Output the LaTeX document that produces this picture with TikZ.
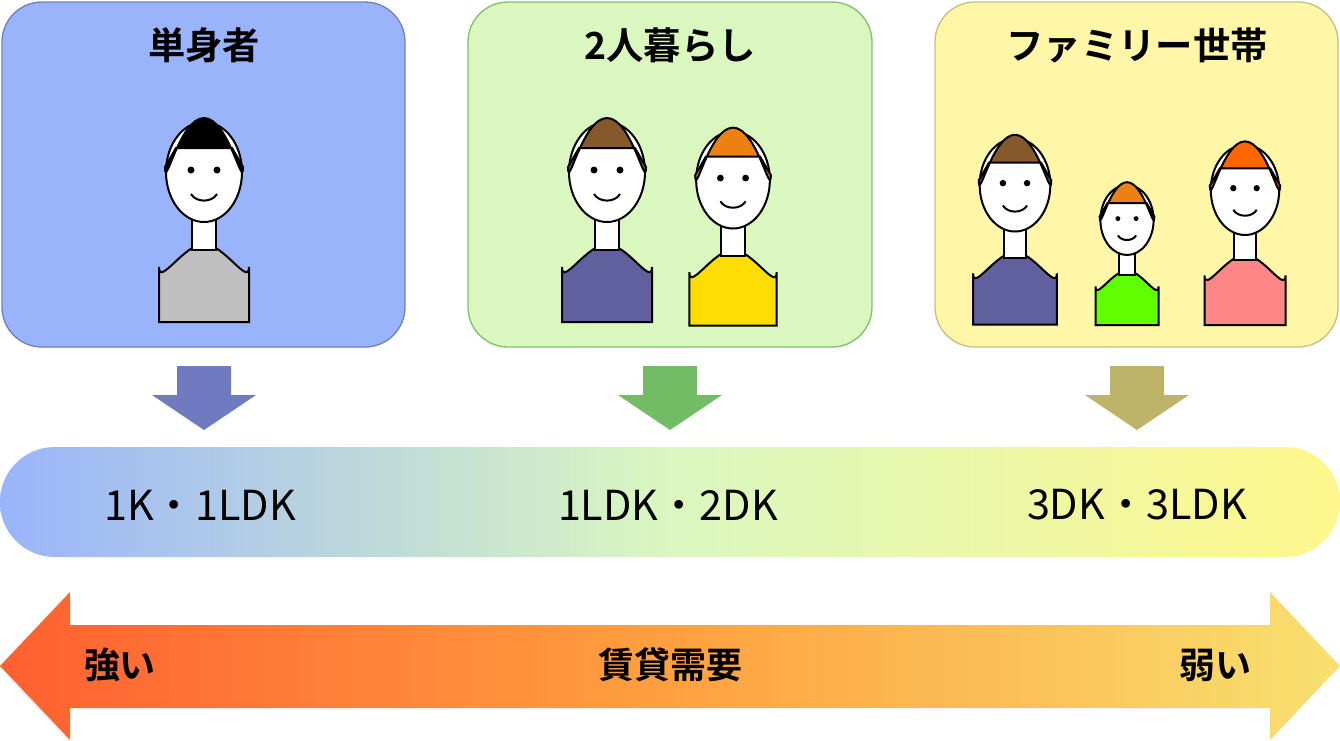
\documentclass[tikz,border=0pt]{standalone}
\usepackage{fontspec}
\newfontfamily\jp{Noto Sans CJK JP}
\newfontfamily\jpb{Noto Sans CJK JP Bold}
\definecolor{singleblue}{HTML}{9AB4FB}
\definecolor{singleedge}{HTML}{6F80C0}
\definecolor{pairgreen}{HTML}{DAF7C0}
\definecolor{pairedge}{HTML}{7DC36A}
\definecolor{familyyellow}{HTML}{FFF6A8}
\definecolor{familyedge}{HTML}{C8C080}
\definecolor{arrowblue}{HTML}{6F7AC0}
\definecolor{arrowgreen}{HTML}{72BC66}
\definecolor{arrowolive}{HTML}{BDB46A}
\definecolor{barright}{HTML}{FFF78C}
\definecolor{demandhigh}{HTML}{FF6030}
\definecolor{demandmid}{HTML}{FFA040}
\definecolor{demandlow}{HTML}{F8E070}
\pgfdeclarehorizontalshading{roomshade}{100bp}{color(0bp)=(singleblue); color(25bp)=(singleblue); color(50bp)=(pairgreen); color(75bp)=(barright); color(100bp)=(barright)}
\pgfdeclarehorizontalshading{demandshade}{100bp}{color(0bp)=(demandhigh); color(25bp)=(demandhigh); color(50bp)=(demandmid); color(75bp)=(demandlow); color(100bp)=(demandlow)}
% simple figure: x, head y, scale, hair colour, shirt colour
\newcommand\figperson[5]{%
\begin{scope}[shift={(#1,#2)},scale=#3]
\filldraw[fill=#5,line width=1.5pt] (-45,150) -- (-45,95) to[out=-90,in=180] (0,72) to[out=0,in=-90] (45,95) -- (45,150) -- cycle;
\filldraw[fill=white,line width=1.5pt] (-12,40) rectangle (12,78);
\filldraw[fill=white,line width=1.5pt] (0,0) ellipse (38 and 50);
\filldraw[fill=#4,line width=1.5pt] (-39,-5) to[out=-90,in=180] (0,-54) to[out=0,in=-90] (39,-5) -- (28,-24) -- (-28,-24) -- cycle;
\fill (-13,-2) circle (3.5); \fill (13,-2) circle (3.5);
\draw[line width=1.5pt] (-13,22) to[out=-60,in=-120] (13,22);
\end{scope}}
% down arrow at x
\newcommand\downarrowat[2]{%
\fill[#2] (#1-27,366) -- (#1+27,366) -- (#1+27,395) -- (#1+52,395) -- (#1,430) -- (#1-52,395) -- (#1-27,395) -- cycle;}
\tikzset{
  groupbox/.style={rounded corners=30pt,line width=1pt},
  grouptitle/.style={font=\jpb\fontsize{28}{32}\selectfont},
  roomlabel/.style={font=\jp\fontsize{31}{36}\selectfont},
  demandlabel/.style={font=\jpb\fontsize{27}{30}\selectfont}
}
\begin{document}
\begin{tikzpicture}[x=0.75pt,y=-0.75pt]
\useasboundingbox (0,0) rectangle (1340,740);
% group boxes
\draw[groupbox,fill=singleblue,draw=singleedge] (2,2) rectangle (405,347);
\draw[groupbox,fill=pairgreen,draw=pairedge] (468,2) rectangle (872,347);
\draw[groupbox,fill=familyyellow,draw=familyedge] (935,2) rectangle (1338,347);
\node[grouptitle] (single) at (204,45) {単身者};
\node[grouptitle] (pair) at (670,45) {2人暮らし};
\node[grouptitle] (family) at (1137,45) {ファミリー世帯};
% people
\figperson{204}{172}{1}{black}{gray!50}
\figperson{607}{172}{1}{brown!70!black}{blue!25!gray}
\figperson{733}{180}{0.97}{orange!70!brown}{yellow!80!orange}
\figperson{1015}{185}{0.93}{brown!70!black}{blue!25!gray}
\figperson{1127}{220}{0.7}{orange!70!brown}{green!50!lime}
\figperson{1245}{190}{0.9}{orange!80!red}{pink!70!red}
% arrows down
\downarrowat{204}{arrowblue}
\downarrowat{670}{arrowgreen}
\downarrowat{1137}{arrowolive}
% room bar
\shade[shading=roomshade,rounded corners=41pt] (0,447) rectangle (1340,557);
\node[roomlabel] (r1) at (200,505) {1K・1LDK};
\node[roomlabel] (r2) at (668,505) {1LDK・2DK};
\node[roomlabel] (r3) at (1137,505) {3DK・3LDK};
% demand arrow
\shade[shading=demandshade] (0,666) -- (70,592) -- (70,625) -- (1270,625) -- (1270,592) -- (1340,666)
  -- (1270,740) -- (1270,708) -- (70,708) -- (70,740) -- cycle;
\node[demandlabel] (strong) at (120,665) {強い};
\node[demandlabel] (demand) at (670,665) {賃貸需要};
\node[demandlabel] (weak) at (1215,665) {弱い};
\end{tikzpicture}
\end{document}
